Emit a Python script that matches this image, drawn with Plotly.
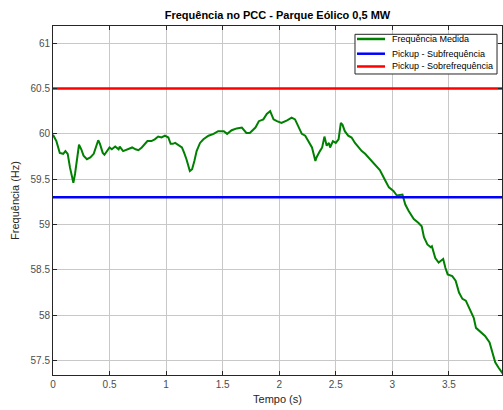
import plotly.graph_objects as go

t = [0.00, 0.03, 0.06, 0.09, 0.11, 0.13, 0.15, 0.18, 0.195, 0.215, 0.23, 0.25, 0.27, 0.30, 0.33, 0.36,
     0.38, 0.40, 0.415, 0.44, 0.455, 0.475, 0.50, 0.52, 0.55, 0.58, 0.59, 0.62, 0.67, 0.70, 0.73, 0.755,
     0.785, 0.815, 0.835, 0.87, 0.90, 0.93, 0.96, 0.99, 1.02, 1.04, 1.06, 1.08, 1.11, 1.14, 1.16, 1.18,
     1.21, 1.23, 1.25, 1.27, 1.30, 1.33, 1.375, 1.42, 1.46, 1.51, 1.54, 1.58, 1.625, 1.67, 1.71, 1.74,
     1.79, 1.82, 1.86, 1.89, 1.92, 1.95, 1.98, 2.02, 2.07, 2.11, 2.14, 2.17, 2.20, 2.23, 2.26, 2.29,
     2.32, 2.33, 2.36, 2.38, 2.40, 2.42, 2.44, 2.45, 2.475, 2.50, 2.525, 2.545, 2.56, 2.58, 2.61, 2.64,
     2.67, 2.70, 2.73, 2.76, 2.79, 2.82, 2.85, 2.89, 2.94, 2.97, 3.01, 3.04, 3.09, 3.115, 3.145, 3.19,
     3.23, 3.26, 3.28, 3.31, 3.34, 3.35, 3.38, 3.41, 3.43, 3.45, 3.47, 3.49, 3.53, 3.56, 3.59, 3.62,
     3.65, 3.68, 3.72, 3.74, 3.78, 3.82, 3.86, 3.88, 3.91, 3.94, 3.98]
freq = [59.99, 59.92, 59.79, 59.78, 59.81, 59.78, 59.63, 59.46, 59.56, 59.78, 59.88, 59.83, 59.76, 59.72, 59.74, 59.78,
        59.87, 59.93, 59.89, 59.79, 59.77, 59.80, 59.85, 59.83, 59.86, 59.83, 59.86, 59.81, 59.83, 59.85, 59.83, 59.82,
        59.85, 59.89, 59.92, 59.92, 59.94, 59.97, 59.96, 59.98, 59.96, 59.89, 59.89, 59.90, 59.87, 59.85, 59.79, 59.72,
        59.59, 59.61, 59.70, 59.81, 59.90, 59.94, 59.98, 60.00, 60.03, 60.03, 60.00, 60.04, 60.06, 60.07, 60.01, 60.01,
        60.07, 60.14, 60.16, 60.22, 60.25, 60.16, 60.14, 60.12, 60.15, 60.18, 60.16, 60.07, 60.00, 59.98, 59.92, 59.85,
        59.70, 59.74, 59.81, 59.85, 59.97, 59.87, 59.90, 59.85, 59.92, 59.90, 59.94, 60.12, 60.10, 60.03, 59.98, 59.96,
        59.90, 59.85, 59.81, 59.78, 59.74, 59.70, 59.65, 59.60, 59.48, 59.41, 59.37, 59.32, 59.33, 59.22, 59.15, 59.06,
        59.02, 58.98, 58.86, 58.78, 58.75, 58.76, 58.63, 58.58, 58.60, 58.62, 58.52, 58.45, 58.43, 58.38, 58.25, 58.18,
        58.16, 58.08, 57.97, 57.86, 57.81, 57.77, 57.70, 57.60, 57.48, 57.42, 57.35]

t_limits = [0.0, 3.97]
pickup_sub = [59.3, 59.3]
pickup_sobre = [60.5, 60.5]

x_ticks = [0, 0.5, 1, 1.5, 2, 2.5, 3, 3.5]
y_ticks = [57.5, 58, 58.5, 59, 59.5, 60, 60.5, 61]

series_names = ["Frequência Medida", "Pickup - Subfrequência", "Pickup - Sobrefrequência"]
series_colors = ["#008000", "#0000ff", "#ff0000"]

font_family = "Liberation Sans, Arial, sans-serif"
axis_color = "#262626"

fig = go.Figure()
fig.add_trace(go.Scatter(x=t, y=freq, mode="lines", name=series_names[0],
                         line=dict(color=series_colors[0], width=2)))
fig.add_trace(go.Scatter(x=t_limits, y=pickup_sub, mode="lines", name=series_names[1],
                         line=dict(color=series_colors[1], width=2.5)))
fig.add_trace(go.Scatter(x=t_limits, y=pickup_sobre, mode="lines", name=series_names[2],
                         line=dict(color=series_colors[2], width=2.5)))

# Compact MATLAB-style legend (box + line samples + labels), placed in plot-area fractions
shapes = [dict(type="rect", xref="paper", yref="paper", x0=0.6726, x1=0.9889, y0=0.8625, y1=0.9762,
               line=dict(color=axis_color, width=1), fillcolor="white", layer="above")]
annotations = []
legend_rows_y = [0.9628, 0.9206, 0.8840]
for name, color, yy in zip(series_names, series_colors, legend_rows_y):
    shapes.append(dict(type="line", xref="paper", yref="paper", x0=0.677, x1=0.7394, y0=yy, y1=yy,
                       line=dict(color=color, width=2.5), layer="above"))
    annotations.append(dict(xref="paper", yref="paper", x=0.7506, y=yy, xanchor="left", yanchor="middle",
                            text=name, showarrow=False, font=dict(size=9, color="black")))

fig.update_layout(
    width=503, height=410,
    margin=dict(l=53, r=1, t=26, b=35),
    paper_bgcolor="white", plot_bgcolor="white",
    font=dict(family=font_family, size=10, color=axis_color),
    title=dict(text="<b>Frequência no PCC - Parque Eólico 0,5 MW</b>", x=0.5, xanchor="center",
               xref="paper", y=0.963, yanchor="middle", font=dict(size=11, color="black")),
    showlegend=False,
    hovermode=False,
    shapes=shapes,
    annotations=annotations,
)
fig.update_xaxes(range=t_limits, tickvals=x_ticks, ticktext=[f"{v:g}" for v in x_ticks],
                 showgrid=True, gridcolor="#c8c8c8", gridwidth=1,
                 showline=True, linecolor=axis_color, linewidth=1, mirror="ticks",
                 ticks="inside", ticklen=4, tickcolor=axis_color, zeroline=False,
                 tickfont=dict(size=10, color="#4d4d4d"),
                 title=dict(text="Tempo (s)", font=dict(size=11, color=axis_color), standoff=6))
fig.update_yaxes(range=[57.34, 61.19], tickvals=y_ticks, ticktext=[f"{v:g}" for v in y_ticks],
                 showgrid=True, gridcolor="#c8c8c8", gridwidth=1,
                 showline=True, linecolor=axis_color, linewidth=1, mirror="ticks",
                 ticks="inside", ticklen=4, tickcolor=axis_color, zeroline=False,
                 tickfont=dict(size=10, color="#4d4d4d"),
                 title=dict(text="Frequência (Hz)", font=dict(size=11, color=axis_color), standoff=8))

fig.write_html("out.html", config={"displayModeBar": False},
               post_script="document.body.style.margin='0';document.body.style.overflow='hidden';")
